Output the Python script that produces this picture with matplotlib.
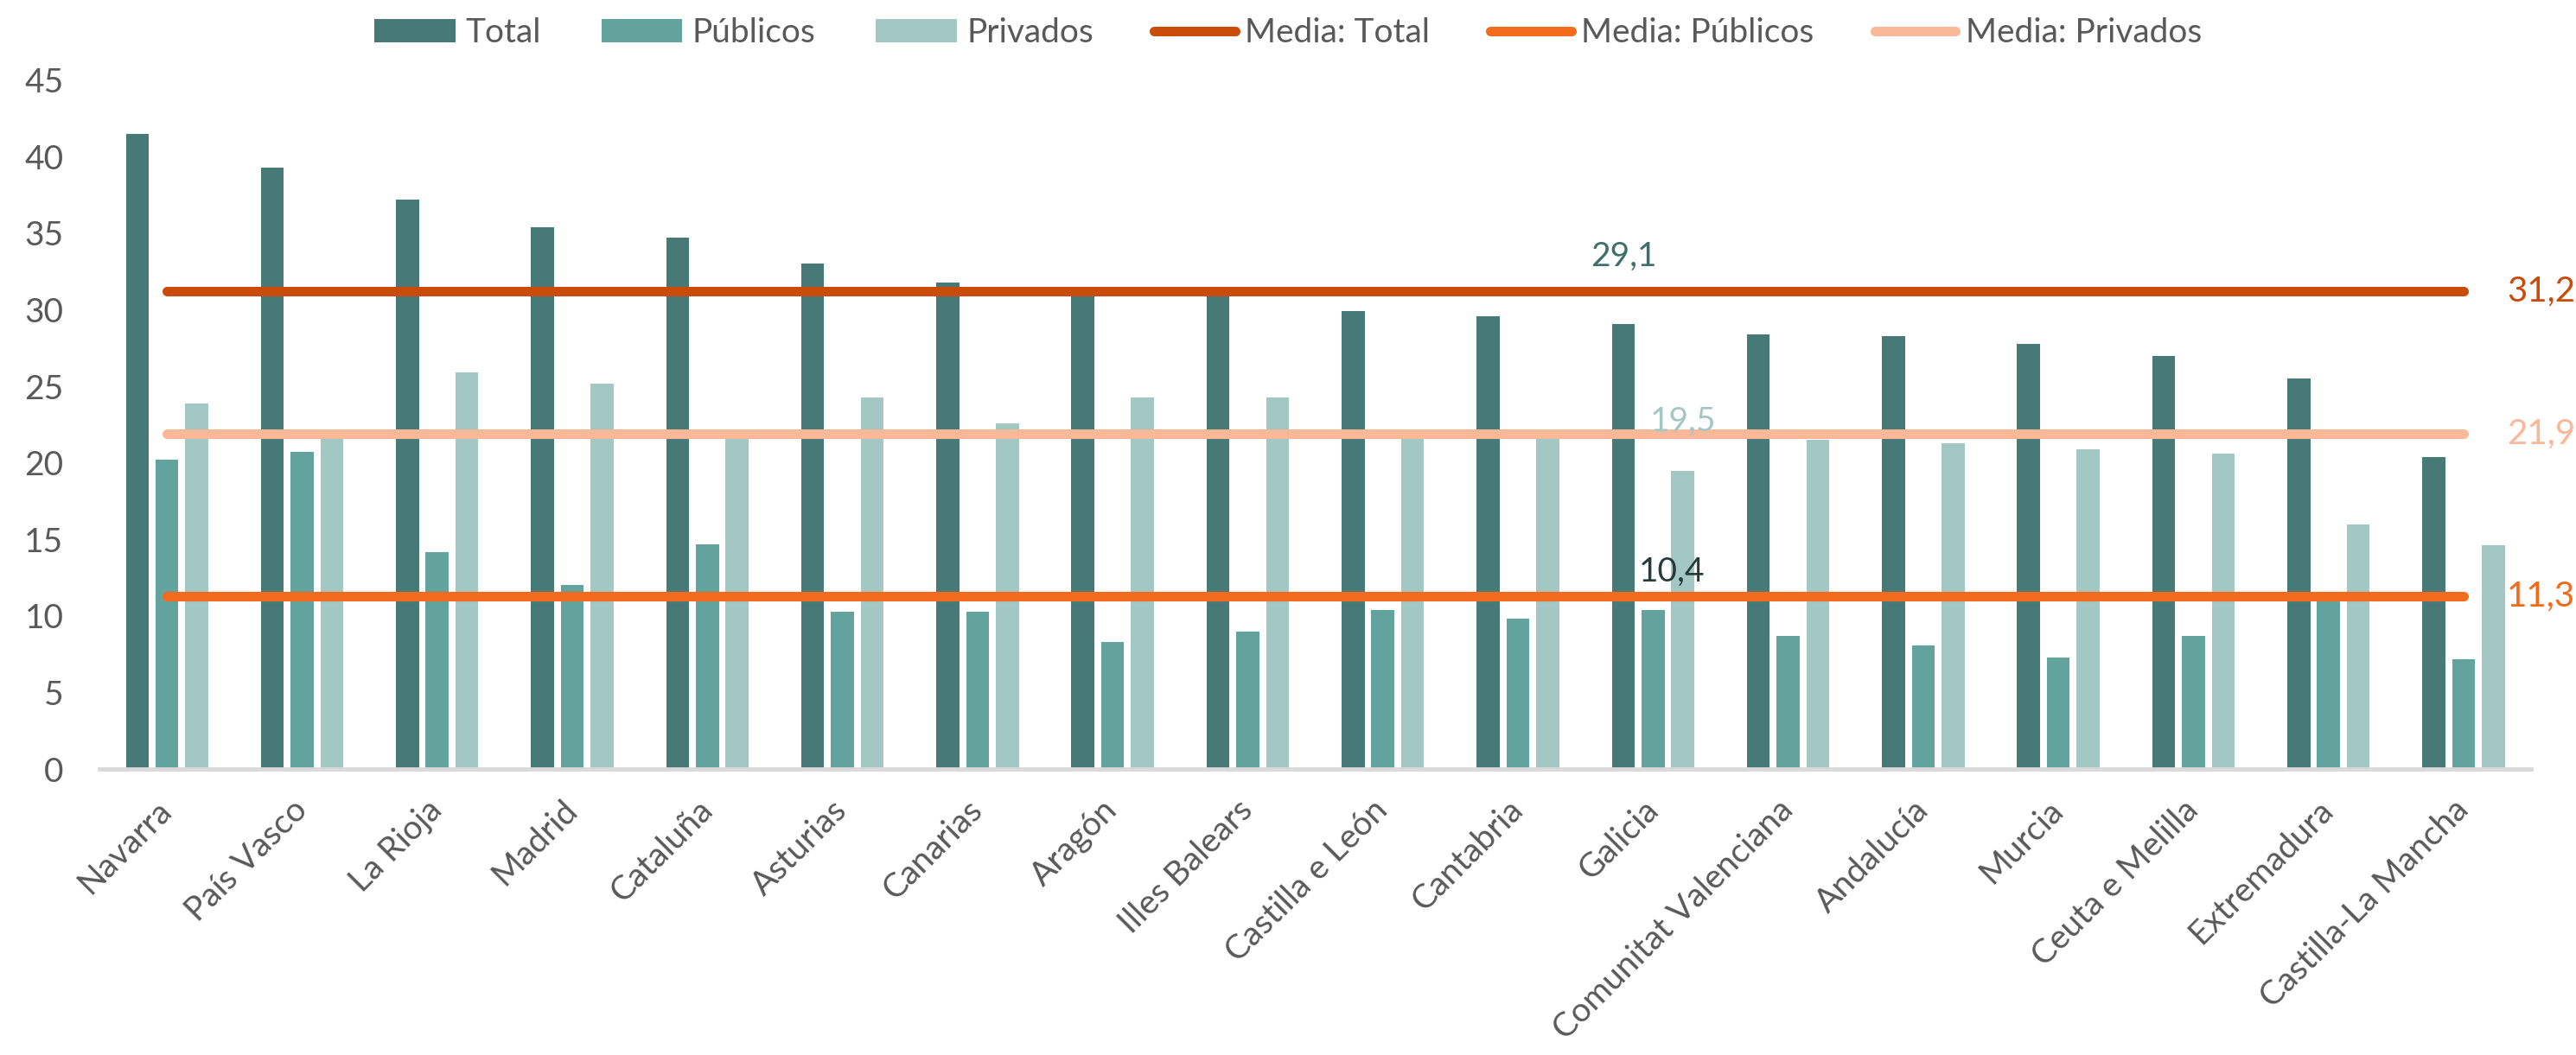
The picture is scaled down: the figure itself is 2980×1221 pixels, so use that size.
import matplotlib.pyplot as plt
import numpy as np

# Data
regiones = [
    "Navarra", "País Vasco", "La Rioja", "Madrid", "Cataluña", "Asturias",
    "Canarias", "Aragón", "Illes Balears", "Castilla e León", "Cantabria",
    "Galicia", "Comunitat Valenciana", "Andalucía", "Murcia",
    "Ceuta e Melilla", "Extremadura", "Castilla-La Mancha",
]
total = [41.5, 39.3, 37.2, 35.4, 34.7, 33.0, 31.8, 31.1, 30.9, 29.9, 29.6,
         29.1, 28.4, 28.3, 27.8, 27.0, 25.5, 20.4]
publicos = [20.2, 20.7, 14.2, 12.0, 14.7, 10.3, 10.3, 8.3, 9.0, 10.4, 9.8,
            10.4, 8.7, 8.1, 7.3, 8.7, 11.2, 7.2]
privados = [23.9, 21.8, 25.9, 25.2, 21.7, 24.3, 22.6, 24.3, 24.3, 21.7, 21.7,
            19.5, 21.5, 21.3, 20.9, 20.6, 16.0, 14.6]
medias = {"Total": 31.2, "Públicos": 11.3, "Privados": 21.9}
destacada = "Galicia"

c_total = "#477a76"
c_pub = "#62a39e"
c_priv = "#a3c8c4"
c_media = {"Total": "#c94c0b", "Públicos": "#f26b1d", "Privados": "#f9b898"}
gris = "#595959"

plt.rcParams["font.family"] = ["Lato", "DejaVu Sans"]

fig = plt.figure(figsize=(29.8, 12.21), dpi=100)
ax = fig.add_axes([0.0386, 0.271, 0.944, 0.653])

x = np.arange(len(regiones))
w = 0.17
off = 0.22
barras = [
    ax.bar(x - off, total, w, color=c_total, label="Total", zorder=2),
    ax.bar(x, publicos, w, color=c_pub, label="Públicos", zorder=2),
    ax.bar(x + off, privados, w, color=c_priv, label="Privados", zorder=2),
]

# Mean lines with value at the right end
lineas = []
for nombre, valor in medias.items():
    (ln,) = ax.plot([x[0], x[-1]], [valor, valor], color=c_media[nombre],
                    lw=8, solid_capstyle="round", label=f"Media: {nombre}",
                    zorder=3)
    lineas.append(ln)
    ax.text(x[-1] + 0.32, valor, f"{valor:.1f}".replace(".", ","),
            color=c_media[nombre], fontsize=29, va="center", ha="left",
            clip_on=False)

# Highlighted region labels
i = regiones.index(destacada)
fmt = lambda v: f"{v:.1f}".replace(".", ",")
ax.text(x[i] - off, total[i] + 4.4, fmt(total[i]), color="#3f6f6b",
        fontsize=28, ha="center", va="center", zorder=4)
ax.text(x[i] + off, privados[i] + 3.2, fmt(privados[i]), color=c_priv,
        fontsize=28, ha="center", va="center", zorder=4)
ax.text(x[i] + 0.14, publicos[i] + 2.5, fmt(publicos[i]), color="#263b3a",
        fontsize=28, ha="center", va="center", zorder=4)

ax.set_xlim(-0.5, len(regiones) - 0.5)
ax.set_ylim(0, 45)
ax.set_yticks(np.arange(0, 46, 5))
ax.set_xticks(x)
ax.set_xticklabels(regiones, rotation=45, ha="right", va="center",
                   rotation_mode="anchor")
ax.tick_params(axis="both", length=0, labelsize=28, colors=gris)
ax.tick_params(axis="x", pad=30)
ax.tick_params(axis="y", pad=30)
for s in ["top", "right", "left"]:
    ax.spines[s].set_visible(False)
ax.spines["bottom"].set_color("#d9d9d9")
ax.spines["bottom"].set_linewidth(3.5)

handles = barras + lineas
fig.legend(handles, [h.get_label() for h in handles],
           loc="upper center", bbox_to_anchor=(0.5, 1.012), ncol=6,
           frameon=False, fontsize=28, handlelength=2.4, handletextpad=0.3,
           columnspacing=1.8, labelcolor=gris)

fig.savefig("out.png", dpi=100, facecolor="white")
